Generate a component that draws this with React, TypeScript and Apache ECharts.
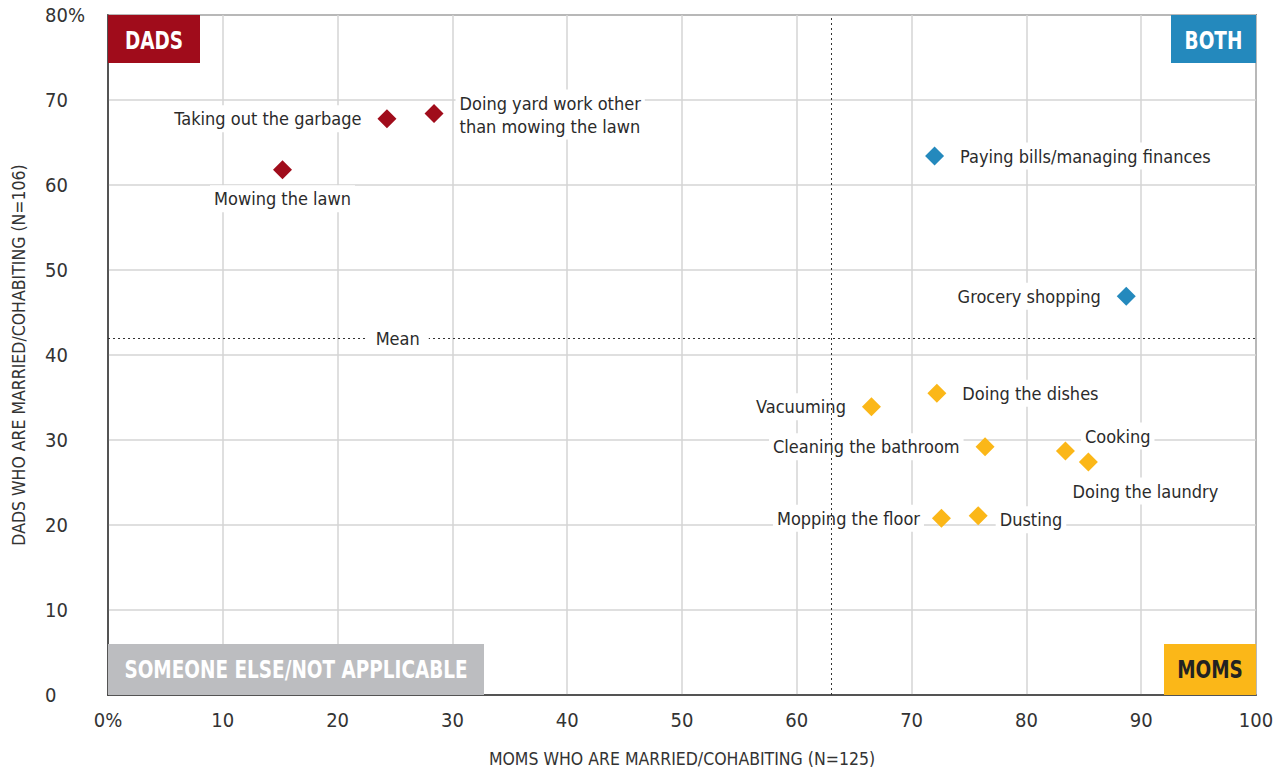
import React, { useEffect, useRef } from "react";
import * as echarts from "echarts";

const FONT = "'Liberation Sans Narrow', 'DejaVu Sans Condensed', 'Roboto', sans-serif";

const dadsPoints: [number, number, string][] = [
  [15.2, 61.8, "Mowing the lawn"],
  [24.3, 67.8, "Taking out the garbage"],
  [28.4, 68.4, "Doing yard work other\nthan mowing the lawn"],
];
const bothPoints: [number, number, string][] = [
  [72.0, 63.4, "Paying bills/managing finances"],
  [88.7, 46.9, "Grocery shopping"],
];
const momsPoints: [number, number, string][] = [
  [72.2, 35.5, "Doing the dishes"],
  [66.5, 33.9, "Vacuuming"],
  [76.4, 29.2, "Cleaning the bathroom"],
  [83.4, 28.7, "Cooking"],
  [85.4, 27.4, "Doing the laundry"],
  [72.6, 20.8, "Mopping the floor"],
  [75.8, 21.1, "Dusting"],
];
const meanX = 63.0;
const meanY = 42.0;
const meanLabelAt: [number, number] = [25.1, 42.0];

const labelPos: Record<string, any> = {
  "Mowing the lawn": { position: "bottom", distance: 6 },
  "Taking out the garbage": { position: "left", distance: 12 },
  "Doing yard work other\nthan mowing the lawn": { position: "right", distance: 12, offset: [0, 1] },
  "Paying bills/managing finances": { position: "right", distance: 12 },
  "Grocery shopping": { position: "left", distance: 12 },
  "Doing the dishes": { position: "right", distance: 12 },
  "Vacuuming": { position: "left", distance: 12 },
  "Cleaning the bathroom": { position: "left", distance: 12 },
  "Cooking": { position: "right", distance: 6, offset: [0, -15] },
  "Doing the laundry": { position: "bottom", distance: 6, offset: [57, 0] },
  "Mopping the floor": { position: "left", distance: 8 },
  "Dusting": { position: "right", distance: 8, offset: [0, 4] },
};

const labelBase = {
  show: true,
  color: "#2b2b2b",
  fontFamily: FONT,
  fontSize: 18,
  backgroundColor: "#fff",
  padding: [2, 4],
  lineHeight: 23,
};

function mk(points: [number, number, string][], color: string, name: string) {
  return {
    type: "scatter",
    name,
    symbol: "diamond",
    symbolSize: 19,
    itemStyle: { color, opacity: 1 },
    data: points.map((p) => ({
      value: [p[0], p[1]],
      label: { ...labelBase, formatter: p[2], ...labelPos[p[2]] },
    })),
    z: 4,
  };
}

export default function App() {
  const ref = useRef<HTMLDivElement>(null);
  useEffect(() => {
    if (!ref.current) return;
    const chart = echarts.init(ref.current, null, { renderer: "svg" });
    const gridL = 108, gridT = 15, gridR = 22, gridB = 74;
    const W = 1278, H = 769;
    const quadFont = `bold 25px ${FONT}`;
    chart.setOption({
      animation: false,
      textStyle: { fontFamily: FONT },
      grid: {
        left: gridL, right: gridR, top: gridT, bottom: gridB,
        outerBoundsMode: "none",
        containLabel: false,
        show: true, borderColor: "#333", borderWidth: 1.5, backgroundColor: "#fff",
      },
      xAxis: {
        type: "value", min: 0, max: 100, interval: 10,
        name: "MOMS WHO ARE MARRIED/COHABITING (N=125)",
        nameLocation: "middle", nameGap: 55,
        nameTextStyle: { fontFamily: FONT, fontSize: 17.5, color: "#333" },
        axisLine: { show: true, lineStyle: { color: "#333", width: 1.5 } },
        axisTick: { show: false },
        axisLabel: {
          fontFamily: FONT, fontSize: 20, color: "#333", margin: 15,
          formatter: (v: number) => (v === 0 ? "0%" : String(v)),
        },
        splitLine: { show: true, lineStyle: { color: "#d4d4d4", width: 1.5 } },
      },
      yAxis: {
        type: "value", min: 0, max: 80, interval: 10,
        name: "DADS WHO ARE MARRIED/COHABITING (N=106)",
        nameLocation: "middle", nameGap: 80,
        nameTextStyle: { fontFamily: FONT, fontSize: 17.5, color: "#333" },
        axisLine: { show: true, lineStyle: { color: "#333", width: 1.5 } },
        axisTick: { show: false },
        axisLabel: {
          fontFamily: FONT, fontSize: 20, color: "#333", margin: 63, align: "left",
          formatter: (v: number) => (v === 80 ? "80%" : String(v)),
        },
        splitLine: { show: true, lineStyle: { color: "#d4d4d4", width: 1.5 } },
      },
      series: [
        {
          type: "scatter",
          name: "meanlines",
          symbolSize: 0,
          data: [],
          markLine: {
            silent: true,
            symbol: "none",
            label: { show: false },
            lineStyle: { color: "#333", type: [2, 3], width: 1 },
            data: [{ xAxis: meanX }, { yAxis: meanY }],
          },
          z: 2,
        },
        {
          type: "scatter",
          name: "meanlabel",
          symbolSize: 1,
          itemStyle: { color: "#fff", opacity: 1 },
          data: [
            {
              value: meanLabelAt,
              label: {
                ...labelBase, show: true, position: "right", distance: 0, offset: [-30, 0],
                formatter: "Mean", padding: [2, 9], color: "#2b2b2b",
              },
            },
          ],
          z: 5,
        },
        mk(dadsPoints, "#a00c1b", "dads"),
        mk(bothPoints, "#2489bd", "both"),
        mk(momsPoints, "#fbb718", "moms"),
      ],
      graphic: [
        { type: "rect", left: gridL, top: gridT, shape: { width: 92, height: 48 }, style: { fill: "#a00c1b" }, z: 10 },
        { type: "text", x: gridL + 46, y: gridT + 25, scaleX: 0.82, style: { text: "DADS", fill: "#fff", font: quadFont, align: "center", verticalAlign: "middle" }, z: 11 },
        { type: "rect", left: 1171, top: gridT, shape: { width: W - gridR - 1171, height: 48 }, style: { fill: "#2489bd" }, z: 10 },
        { type: "text", x: (1171 + W - gridR) / 2, y: gridT + 25, scaleX: 0.82, style: { text: "BOTH", fill: "#fff", font: quadFont, align: "center", verticalAlign: "middle" }, z: 11 },
        { type: "rect", left: gridL, top: 644, shape: { width: 484 - gridL, height: H - gridB - 644 }, style: { fill: "#bcbdc0" }, z: 10 },
        { type: "text", x: (gridL + 484) / 2, y: 669, scaleX: 0.82, style: { text: "SOMEONE ELSE/NOT APPLICABLE", fill: "#fff", font: quadFont, align: "center", verticalAlign: "middle" }, z: 11 },
        { type: "rect", left: 1164, top: 644, shape: { width: W - gridR - 1164, height: H - gridB - 644 }, style: { fill: "#fbb718" }, z: 10 },
        { type: "text", x: (1164 + W - gridR) / 2, y: 669, scaleX: 0.82, style: { text: "MOMS", fill: "#222", font: quadFont, align: "center", verticalAlign: "middle" }, z: 11 },
      ],
    });
    return () => chart.dispose();
  }, []);
  return (
    <div
      ref={ref}
      style={{ position: "absolute", left: 0, top: 0, width: 1278, height: 769, background: "#fff" }}
    />
  );
}
